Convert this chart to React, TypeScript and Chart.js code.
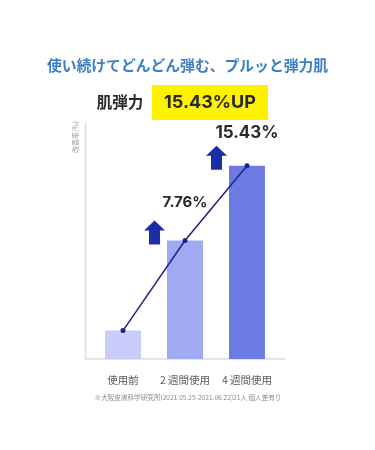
import React, { useEffect, useRef } from "react";
import { Chart, registerables } from "chart.js";

Chart.register(...registerables);

const categories = ["使用前", "2 週間使用", "4 週間使用"];
const barValues = [2.4, 10.0, 16.3];
const lineValues = [2.4, 10.0, 16.3];
const growthLabels = ["", "7.76%", "15.43%"];
const barColors = ["#c9cdf9", "#a0aaf3", "#6b7be3"];
const titleText = "使い続けてどんどん弾む、プルッと弾力肌";
const headlineLabel = "肌弾力";
const headlineValue = "15.43%UP";
const yAxisTitle = "改善率(%)";
const footnote = "※大阪皮膚科学研究所(2021.05.25-2021.06.22)21人 個人差有り";

const JP = '"Noto Sans CJK JP", "Noto Sans", sans-serif';
const NUM = 'Inter, "Noto Sans", sans-serif';

const decorPlugin = {
  id: "decor",
  beforeDatasetsDraw(chart: any) {
    const ctx = chart.ctx as CanvasRenderingContext2D;
    const ca = chart.chartArea;
    ctx.save();
    ctx.strokeStyle = "#d9dbf2";
    ctx.lineWidth = 1.5;
    ctx.beginPath();
    ctx.moveTo(ca.left - 6.5, ca.top + 1);
    ctx.lineTo(ca.left - 6.5, ca.bottom);
    ctx.lineTo(ca.right + 7, ca.bottom);
    ctx.stroke();
    ctx.restore();
  },
  afterDatasetsDraw(chart: any) {
    const ctx = chart.ctx as CanvasRenderingContext2D;
    const ca = chart.chartArea;
    const xs = chart.scales.x;
    const meta = chart.getDatasetMeta(0);
    ctx.save();
    ctx.textAlign = "center";
    ctx.textBaseline = "middle";
    ctx.fillStyle = "#3b80c6";
    ctx.font = "bold 14.8px " + JP;
    ctx.fillText(titleText, 187.5, 65);

    ctx.fillStyle = "#fff200";
    ctx.fillRect(152, 85, 116, 35);
    ctx.fillStyle = "#2a2a2a";
    ctx.font = "bold 15.5px " + JP;
    ctx.fillText(headlineLabel, 120, 102);
    ctx.font = "bold 18px " + NUM;
    ctx.fillText(headlineValue, 210, 103);

    ctx.save();
    ctx.translate(75, 137);
    ctx.rotate(-Math.PI / 2);
    ctx.fillStyle = "#9a9a9a";
    ctx.font = "7px " + JP;
    ctx.fillText(yAxisTitle, 0, 0);
    ctx.restore();

    const labelSizes = [15, 15, 17];
    const labelOffsets = [38, 38, 33];
    meta.data.forEach((bar: any, i: number) => {
      if (!growthLabels[i]) return;
      const left = bar.x - bar.width / 2;
      const r = left - 2;
      const l = r - 21;
      const b = bar.y + 4;
      const t = b - 24;
      const headH = 10;
      const cx = (l + r) / 2;
      ctx.fillStyle = "#1c2da6";
      ctx.beginPath();
      ctx.moveTo(cx, t);
      ctx.lineTo(r, t + headH);
      ctx.lineTo(cx + 5.5, t + headH);
      ctx.lineTo(cx + 5.5, b);
      ctx.lineTo(cx - 5.5, b);
      ctx.lineTo(cx - 5.5, t + headH);
      ctx.lineTo(l, t + headH);
      ctx.closePath();
      ctx.fill();

      ctx.fillStyle = "#2a2a2a";
      ctx.font = "bold " + labelSizes[i] + "px " + NUM;
      ctx.fillText(growthLabels[i], bar.x, bar.y - labelOffsets[i]);
    });

    ctx.fillStyle = "#5a5a5a";
    ctx.font = "10.5px " + JP;
    categories.forEach((c, i) => {
      ctx.fillText(c, xs.getPixelForTick(i), ca.bottom + 21);
    });

    ctx.fillStyle = "#8a8a8a";
    ctx.font = "6.6px " + JP;
    ctx.fillText(footnote, 188, ca.bottom + 38);
    ctx.restore();
  },
};

export default function App() {
  const ref = useRef<HTMLCanvasElement | null>(null);
  useEffect(() => {
    if (!ref.current) return;
    const chart = new Chart(ref.current, {
      type: "bar",
      data: {
        labels: categories,
        datasets: [
          {
            type: "bar",
            data: barValues,
            backgroundColor: barColors,
            borderWidth: 0,
            barPercentage: 0.58,
            categoryPercentage: 1,
            order: 1,
          } as any,
          {
            type: "line",
            data: lineValues,
            borderColor: "#1e2289",
            backgroundColor: "#1e2289",
            borderWidth: 1.5,
            pointRadius: 2.5,
            pointBackgroundColor: "#1e2289",
            pointBorderWidth: 0,
            fill: false,
            tension: 0,
            order: 0,
          } as any,
        ],
      },
      options: {
        responsive: false,
        animation: false,
        layout: { padding: { left: 92, right: 97, top: 122, bottom: 91 } },
        plugins: { legend: { display: false }, tooltip: { enabled: false } },
        scales: {
          x: { type: "category", offset: true, display: false },
          y: { type: "linear", min: 0, max: 20, display: false },
        },
      },
      plugins: [decorPlugin],
    });
    return () => chart.destroy();
  }, []);
  return (
    <div style={{ position: "absolute", left: 0, top: 0, width: 375, height: 450, background: "#fff" }}>
      <canvas ref={ref} width={375} height={450} />
    </div>
  );
}
